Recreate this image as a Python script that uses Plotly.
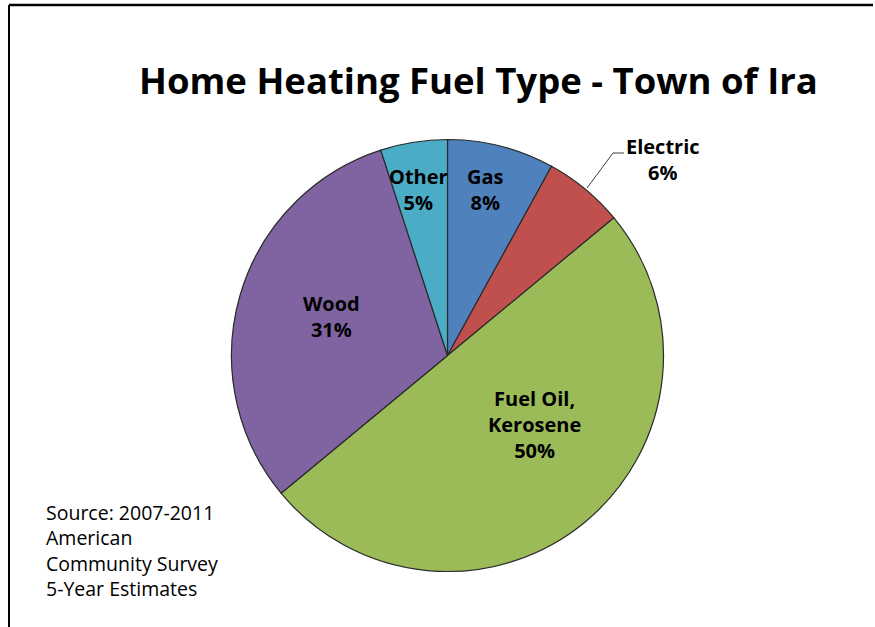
import plotly.graph_objects as go

# Home heating fuel shares, clockwise from 12 o'clock
fuel_types = ["Gas", "Electric", "Fuel Oil,<br>Kerosene", "Wood", "Other"]
shares = [8, 6, 50, 31, 5]
slice_colors = ["#4F81BD", "#C0504D", "#9BBB59", "#8064A2", "#4BACC6"]

W, H = 875, 627


def px(x):
    return x / W


def py(y):
    return 1 - y / H


# pie centre and radius in pixels
cx, cy, r = 447.5, 355.5, 216

fig = go.Figure(
    go.Pie(
        labels=fuel_types,
        values=shares,
        sort=False,
        direction="clockwise",
        rotation=0,
        marker=dict(colors=slice_colors, line=dict(color="#2a2a2a", width=1.2)),
        textinfo="none",
        hoverinfo="label+percent",
        showlegend=False,
        domain=dict(x=[px(cx - r), px(cx + r)], y=[py(cy + r), py(cy - r)]),
    )
)

# slice label placement (pixel centres)
label_pos = {
    "Gas": (486, 189),
    "Electric": (663, 159),
    "Fuel Oil,<br>Kerosene": (534, 424),
    "Wood": (331, 316),
    "Other": (418, 189),
}
label_font = dict(family="Open Sans", size=20, color="#000000")

annotations = []
for name, val in zip(fuel_types, shares):
    x, y = label_pos[name]
    annotations.append(
        dict(
            x=px(x), y=py(y), xref="paper", yref="paper",
            text=f"<b>{name}<br>{val}%</b>",
            showarrow=False, font=label_font, align="center",
            xanchor="center", yanchor="middle",
        )
    )

annotations.append(
    dict(
        x=px(479), y=py(80), xref="paper", yref="paper",
        text="<b>Home Heating Fuel Type - Town of Ira</b>",
        showarrow=False, xanchor="center", yanchor="middle",
        font=dict(family="Open Sans", size=36.5, color="#000000"),
    )
)

annotations.append(
    dict(
        x=px(44), y=py(550), xref="paper", yref="paper",
        text="Source: 2007-2011<br>American<br>Community Survey<br>5-Year Estimates",
        showarrow=False, xanchor="left", yanchor="middle", align="left",
        font=dict(family="Open Sans", size=19.5, color="#000000"),
    )
)

shapes = [
    # chart frame
    dict(type="line", xref="paper", yref="paper",
         x0=px(9), y0=py(5), x1=px(873), y1=py(5),
         line=dict(color="#000000", width=2.5)),
    dict(type="line", xref="paper", yref="paper",
         x0=px(9), y0=py(5), x1=px(9), y1=py(640),
         line=dict(color="#000000", width=2)),
    # leader line for the Electric label
    dict(type="path", xref="paper", yref="paper",
         path=f"M {px(587)},{py(188)} L {px(613)},{py(153)} L {px(624)},{py(153)}",
         line=dict(color="#404040", width=1)),
]

fig.update_layout(
    width=W, height=H,
    margin=dict(l=0, r=0, t=0, b=0),
    paper_bgcolor="#ffffff",
    plot_bgcolor="#ffffff",
    annotations=annotations,
    shapes=shapes,
)

fig.write_html("out.html")
